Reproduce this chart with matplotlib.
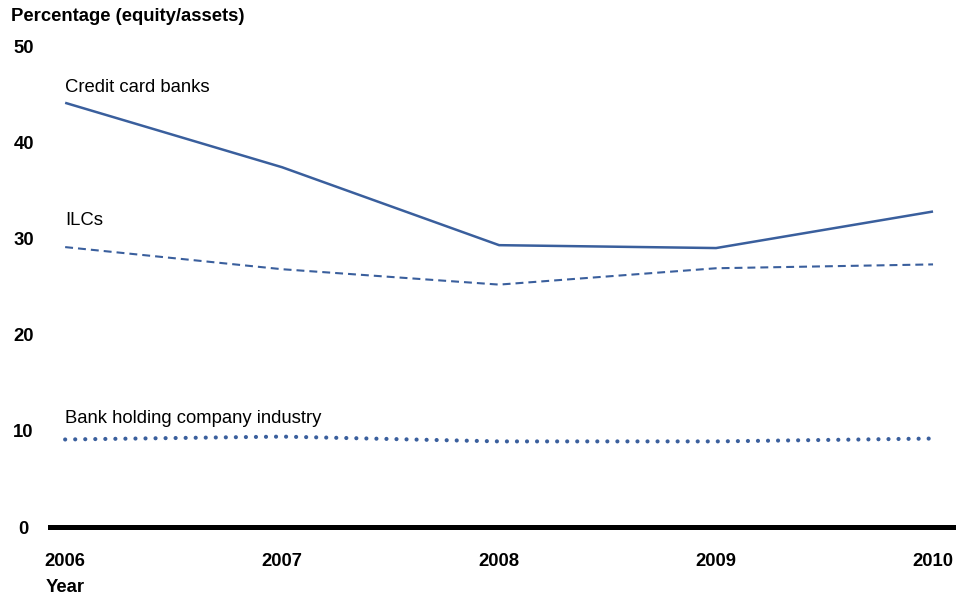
import matplotlib.pyplot as plt

plt.rcParams['font.family'] = ['Liberation Sans', 'DejaVu Sans']

# Data
years = [2006, 2007, 2008, 2009, 2010]
credit_card = [44.1, 37.4, 29.3, 29.0, 32.8]
ilcs = [29.1, 26.8, 25.2, 26.9, 27.3]
bhc = [9.1, 9.4, 8.9, 8.9, 9.2]
yticks = [0, 10, 20, 30, 40, 50]

blue = "#3a5f9d"
fs = 13.3

fig = plt.figure(figsize=(9.72, 5.98), dpi=100)
ax = fig.add_axes([0.0514, 0.1187, 0.9286, 0.8043])

ax.plot(years, credit_card, color=blue, lw=1.8, solid_capstyle='butt')
ax.plot(years, ilcs, color=blue, lw=1.5, linestyle=(0, (3.8, 2.4)))
ax.plot(years, bhc, color=blue, lw=3.0, linestyle=(0, (0.01, 2.4)),
        dash_capstyle='round')

ax.set_xlim(2005.93, 2010.09)
ax.set_ylim(0, 50)

for s in ['top', 'right', 'left']:
    ax.spines[s].set_visible(False)
ax.spines['bottom'].set_linewidth(3.6)
ax.spines['bottom'].set_color('black')

ax.set_xticks(years)
ax.set_xticklabels([str(y) for y in years], fontweight='bold', fontsize=fs)
ax.set_yticks(yticks)
ax.set_yticklabels([str(v) for v in yticks], fontweight='bold', fontsize=fs,
                   ha='center')
ax.tick_params(axis='x', length=0, pad=19)
ax.tick_params(axis='y', length=0, pad=19)
ax.set_ylim(0, 50)

# Series labels
ax.text(2006, 45.7, "Credit card banks", fontsize=fs, va='center', ha='left')
ax.text(2006, 31.9, "ILCs", fontsize=fs, va='center', ha='left')
ax.text(2006, 11.3, "Bank holding company industry", fontsize=fs,
        va='center', ha='left')

fig.text(0.011, 0.973, "Percentage (equity/assets)", fontsize=fs,
         fontweight='bold', va='center', ha='left')
fig.text(0.047, 0.017, "Year", fontsize=fs, fontweight='bold',
         va='center', ha='left')

fig.savefig("out.png", dpi=100)
